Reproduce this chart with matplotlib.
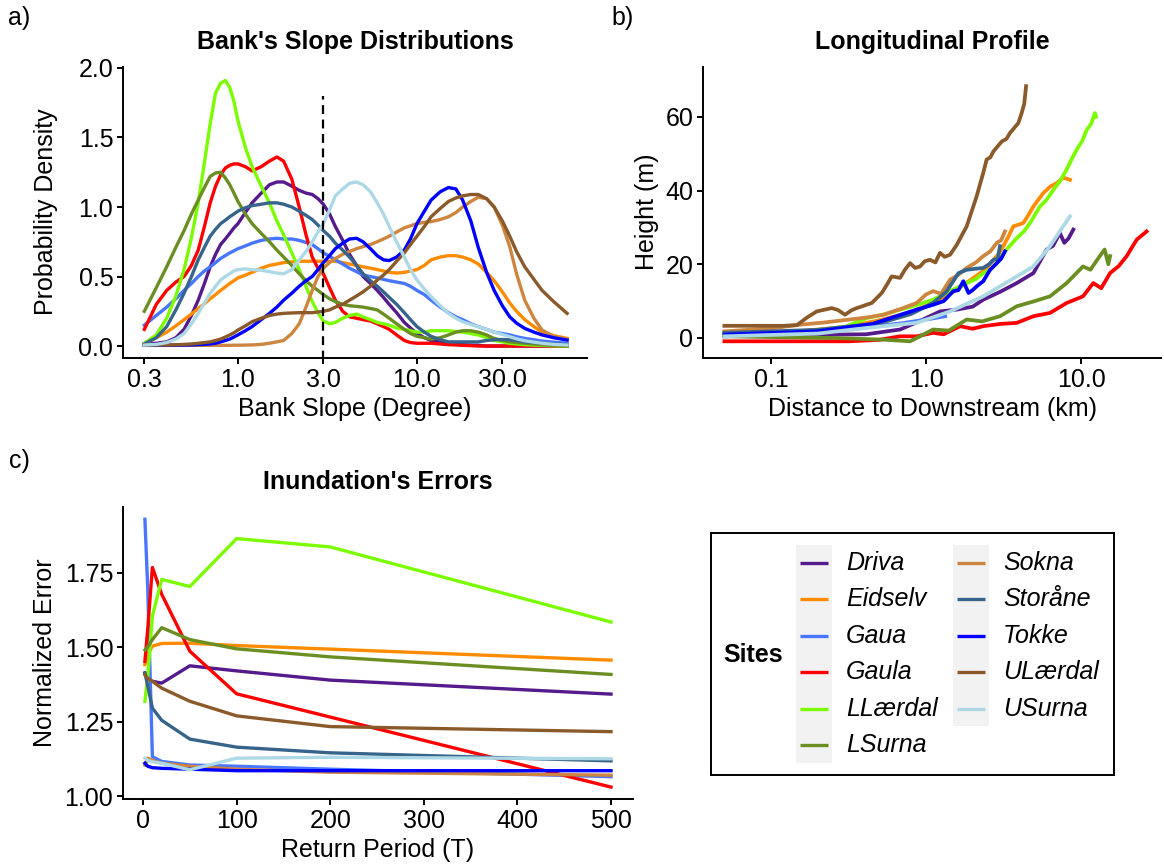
import matplotlib
matplotlib.use("Agg")
import matplotlib.pyplot as plt
from matplotlib.patches import Rectangle

plt.rcParams['font.family'] = ['Liberation Sans', 'DejaVu Sans']
plt.rcParams['font.size'] = 18

# ---- sites and colours ----
sites = ['Driva', 'Eidselv', 'Gaua', 'Gaula', 'LLærdal', 'LSurna',
         'Sokna', 'Storåne', 'Tokke', 'ULærdal', 'USurna']
colors = ['#551A8B', '#FF8C00', '#4876FF', '#FF0000', '#7CFC00', '#6B8E23',
          '#CD853F', '#36648B', '#0000FF', '#8B5A2B', '#ADD8E6']

# ---- a) bank slope densities (read off the picture) ----
slope = [0.3, 0.35, 0.4, 0.45, 0.5, 0.55, 0.6, 0.65, 0.7, 0.75,
         0.8, 0.85, 0.9, 0.95, 1.0, 1.1, 1.2, 1.35, 1.5, 1.65,
         1.8, 2.0, 2.2, 2.4, 2.6, 2.8, 3.0, 3.25, 3.5, 3.85,
         4.2, 4.6, 5, 5.5, 6, 6.5, 7, 7.7, 8.5, 9.2,
         10, 11, 12, 13.5, 15, 16.5, 18, 20, 22, 24.5,
         27, 30, 33, 36, 40, 45, 50, 58, 69]
dens_driva = [0.015, 0.02, 0.03, 0.06, 0.12, 0.22, 0.33, 0.45, 0.57, 0.66,
              0.73, 0.77, 0.81, 0.85, 0.88, 0.96, 1.03, 1.1, 1.16, 1.18,
              1.18, 1.15, 1.12, 1.1, 1.09, 1.06, 1.02, 0.95, 0.86, 0.76,
              0.66, 0.58, 0.5, 0.45, 0.4, 0.35, 0.3, 0.24, 0.17, 0.13,
              0.09, 0.06, 0.04, 0.03, 0.02, 0.015, 0.01, 0.007, 0.005, 0.0,
              0.0, 0.0, 0.0, 0.0, 0.0, 0.0, 0.0, 0.0, 0.0]
dens_eidselv = [0.015, 0.06, 0.1, 0.145, 0.19, 0.23, 0.27, 0.305, 0.34, 0.37,
                0.4, 0.425, 0.45, 0.47, 0.49, 0.51, 0.53, 0.56, 0.58, 0.59,
                0.6, 0.605, 0.61, 0.61, 0.61, 0.61, 0.61, 0.61, 0.61, 0.6,
                0.59, 0.58, 0.57, 0.56, 0.55, 0.54, 0.53, 0.525, 0.53, 0.54,
                0.55, 0.58, 0.62, 0.64, 0.65, 0.65, 0.64, 0.62, 0.59, 0.53,
                0.47, 0.39, 0.31, 0.25, 0.19, 0.14, 0.1, 0.075, 0.055]
dens_gaua = [0.15, 0.22, 0.28, 0.34, 0.4, 0.45, 0.5, 0.54, 0.57, 0.6,
             0.63, 0.65, 0.67, 0.685, 0.7, 0.72, 0.74, 0.76, 0.77, 0.775,
             0.77, 0.77, 0.76, 0.745, 0.73, 0.7, 0.67, 0.645, 0.62, 0.59,
             0.56, 0.535, 0.51, 0.5, 0.49, 0.48, 0.47, 0.46, 0.45, 0.43,
             0.4, 0.37, 0.33, 0.28, 0.24, 0.21, 0.19, 0.16, 0.14, 0.12,
             0.1, 0.09, 0.08, 0.067, 0.055, 0.045, 0.036, 0.028, 0.02]
dens_gaula = [0.12, 0.3, 0.4, 0.46, 0.5, 0.58, 0.69, 0.86, 1.03, 1.15,
              1.23, 1.28, 1.3, 1.31, 1.31, 1.29, 1.26, 1.29, 1.33, 1.36,
              1.33, 1.2, 1.0, 0.8, 0.64, 0.56, 0.52, 0.42, 0.33, 0.25,
              0.21, 0.2, 0.19, 0.18, 0.16, 0.14, 0.12, 0.08, 0.04, 0.025,
              0.02, 0.02, 0.02, 0.015, 0.01, 0.008, 0.005, 0.003, 0.0, 0.0,
              0.0, 0.0, 0.0, 0.0, 0.0, 0.0, 0.0, 0.0, 0.0]
dens_llaerdal = [0.02, 0.08, 0.2, 0.36, 0.55, 0.78, 1.03, 1.32, 1.6, 1.82,
                 1.89, 1.91, 1.86, 1.76, 1.62, 1.43, 1.29, 1.15, 1.03, 0.9,
                 0.8, 0.67, 0.55, 0.43, 0.32, 0.24, 0.18, 0.16, 0.17, 0.2,
                 0.22, 0.23, 0.21, 0.19, 0.17, 0.16, 0.15, 0.13, 0.12, 0.11,
                 0.1, 0.1, 0.11, 0.11, 0.11, 0.105, 0.1, 0.09, 0.08, 0.06,
                 0.04, 0.03, 0.02, 0.015, 0.01, 0.007, 0.005, 0.002, 0.0]
dens_lsurna = [0.25, 0.42, 0.57, 0.71, 0.83, 0.95, 1.05, 1.14, 1.22, 1.245,
               1.25, 1.21, 1.16, 1.1, 1.04, 0.95, 0.88, 0.81, 0.75, 0.69,
               0.64, 0.58, 0.52, 0.47, 0.43, 0.4, 0.37, 0.34, 0.32, 0.3,
               0.29, 0.285, 0.28, 0.27, 0.26, 0.23, 0.2, 0.16, 0.12, 0.09,
               0.07, 0.06, 0.05, 0.06, 0.08, 0.1, 0.11, 0.11, 0.1, 0.08,
               0.055, 0.04, 0.03, 0.025, 0.02, 0.015, 0.01, 0.005, 0.0]
dens_sokna = [0.005, 0.005, 0.005, 0.005, 0.005, 0.005, 0.005, 0.005, 0.005, 0.005,
              0.005, 0.005, 0.005, 0.006, 0.006, 0.007, 0.008, 0.012, 0.02, 0.03,
              0.04, 0.09, 0.16, 0.28, 0.4, 0.5, 0.56, 0.6, 0.63, 0.66,
              0.68, 0.7, 0.715, 0.73, 0.75, 0.77, 0.79, 0.82, 0.85, 0.865,
              0.88, 0.89, 0.895, 0.91, 0.93, 0.96, 1.0, 1.04, 1.07, 1.06,
              1.0, 0.87, 0.715, 0.52, 0.33, 0.2, 0.115, 0.07, 0.048]
dens_storaane = [0.015, 0.06, 0.14, 0.26, 0.38, 0.5, 0.62, 0.71, 0.79, 0.84,
                 0.88, 0.905, 0.93, 0.95, 0.97, 0.995, 1.01, 1.02, 1.03, 1.03,
                 1.02, 1.0, 0.97, 0.94, 0.91, 0.87, 0.83, 0.79, 0.74, 0.69,
                 0.64, 0.58, 0.52, 0.47, 0.43, 0.39, 0.35, 0.3, 0.24, 0.19,
                 0.14, 0.1, 0.07, 0.045, 0.03, 0.03, 0.03, 0.03, 0.03, 0.04,
                 0.045, 0.047, 0.045, 0.04, 0.03, 0.025, 0.02, 0.015, 0.01]
dens_tokke = [0.005, 0.005, 0.005, 0.006, 0.007, 0.008, 0.01, 0.012, 0.015, 0.02,
              0.03, 0.04, 0.05, 0.065, 0.08, 0.11, 0.14, 0.19, 0.235, 0.28,
              0.33, 0.38, 0.43, 0.47, 0.5, 0.55, 0.6, 0.65, 0.7, 0.74,
              0.77, 0.775, 0.75, 0.7, 0.65, 0.62, 0.615, 0.64, 0.69, 0.77,
              0.88, 0.97, 1.05, 1.11, 1.14, 1.13, 1.05, 0.9, 0.71, 0.53,
              0.4, 0.29, 0.21, 0.165, 0.127, 0.1, 0.08, 0.06, 0.043]
dens_ulaerdal = [0.007, 0.007, 0.007, 0.009, 0.012, 0.015, 0.02, 0.025, 0.03, 0.04,
                 0.05, 0.065, 0.08, 0.095, 0.115, 0.145, 0.175, 0.2, 0.22, 0.23,
                 0.235, 0.238, 0.24, 0.24, 0.24, 0.245, 0.25, 0.26, 0.28, 0.3,
                 0.33, 0.36, 0.39, 0.43, 0.475, 0.51, 0.55, 0.61, 0.67, 0.73,
                 0.79, 0.86, 0.93, 0.99, 1.04, 1.065, 1.08, 1.09, 1.09, 1.06,
                 1.0, 0.9, 0.79, 0.68, 0.57, 0.48, 0.4, 0.32, 0.235]
dens_usurna = [0.007, 0.012, 0.025, 0.05, 0.09, 0.16, 0.235, 0.31, 0.38, 0.43,
               0.475, 0.5, 0.52, 0.54, 0.55, 0.555, 0.55, 0.545, 0.535, 0.525,
               0.52, 0.55, 0.62, 0.68, 0.75, 0.82, 0.88, 0.98, 1.08, 1.13,
               1.17, 1.18, 1.16, 1.11, 1.03, 0.95, 0.86, 0.75, 0.64, 0.55,
               0.475, 0.41, 0.355, 0.29, 0.235, 0.2, 0.175, 0.155, 0.14, 0.12,
               0.1, 0.083, 0.067, 0.052, 0.038, 0.028, 0.02, 0.012, 0.007]
densities = [dens_driva, dens_eidselv, dens_gaua, dens_gaula, dens_llaerdal, dens_lsurna,
             dens_sokna, dens_storaane, dens_tokke, dens_ulaerdal, dens_usurna]
slope_threshold = 3.0
threshold_top = 1.8

# ---- b) longitudinal profiles (km, m) ----
km_driva = [0.05, 0.2, 0.41, 0.68, 0.9, 1.23, 1.58, 2.0, 2.34, 3.0, 3.85, 4.93, 6.0, 6.6, 7.3, 7.8, 8.3, 8.92]
h_driva = [0.9, 0.9, 1.0, 2.3, 4.5, 7.2, 7.7, 8.5, 10.4, 12.5, 14.9, 17.6, 24.0, 25.0, 28.5, 25.8, 27.0, 29.4]
km_eidselv = [0.05, 0.15, 0.3, 0.5, 0.8, 1.1, 1.5, 1.9, 2.4, 2.9, 3.15, 3.4, 3.66, 4.0, 4.25, 4.6, 4.93,
              5.3, 5.71, 6.3, 6.97, 7.7, 8.49]
h_eidselv = [1.0, 1.8, 3.0, 4.8, 7.0, 9.5, 12.5, 15.5, 18.5, 22.5, 24.9, 27.5, 30.3, 30.8, 31.2, 33.5, 35.7,
             37.5, 39.3, 41.0, 42.0, 43.5, 42.9]
km_gaua = [0.05, 0.1, 0.2, 0.4, 0.7, 1.0, 1.33]
h_gaua = [0.45, 0.8, 1.5, 2.8, 4.0, 5.0, 5.9]
km_gaula = [0.05, 0.32, 0.5, 0.68, 0.87, 1.11, 1.3, 1.66, 2.0, 2.34, 3.0, 3.85, 4.93, 6.31, 8.08, 10.3,
            12.0, 13.5, 15.4, 17.5, 19.7, 22.9, 26.5]
h_gaula = [-0.9, -0.9, -0.5, 0.45, 0.45, 1.4, 1.0, 3.2, 2.5, 3.2, 3.8, 4.1, 5.9, 6.8, 9.5, 11.3,
           14.9, 13.5, 17.6, 19.5, 22.2, 26.7, 28.9]
km_llaerdal = [0.05, 0.15, 0.3, 0.414, 0.55, 0.68, 0.85, 1.11, 1.4, 1.83, 2.1, 2.34, 2.6, 2.86, 3.31, 3.85,
               4.3, 4.69, 5.44, 6.0, 6.63, 7.3, 8.08, 8.7, 9.38, 10.2, 10.9, 11.6, 12.3, 12.5]
h_llaerdal = [0.8, 1.5, 3.0, 5.4, 6.5, 7.7, 8.8, 10.4, 12.5, 14.9, 16.0, 17.6, 18.5, 20.3, 24.0, 27.1,
              29.0, 31.2, 35.7, 37.5, 40.2, 42.5, 45.7, 48.5, 51.1, 53.5, 56.5, 58.0, 61.0, 60.0]
km_lsurna = [0.05, 0.25, 0.53, 0.79, 0.915, 1.11, 1.4, 1.83, 2.3, 3.0, 3.85, 4.93, 6.31, 8.08, 10.3,
             11.5, 13.2, 14.2, 15.0, 15.4]
h_lsurna = [0.45, 0.0, -0.45, -0.9, 0.45, 2.3, 2.0, 5.0, 4.5, 5.9, 8.6, 9.9, 11.3, 14.9, 19.4,
            18.5, 22.2, 24.0, 20.0, 22.2]
km_sokna = [0.05, 0.1, 0.154, 0.22, 0.32, 0.42, 0.53, 0.7, 0.87, 1.0, 1.11, 1.25, 1.43, 1.6, 1.83, 2.1,
            2.34, 2.6, 2.86, 3.05, 3.23]
h_sokna = [1.8, 2.6, 3.6, 4.2, 5.0, 5.6, 6.3, 8.0, 9.5, 11.8, 12.7, 12.0, 15.8, 17.0, 19.0, 20.5,
           22.2, 23.5, 25.8, 26.5, 28.9]
km_storaane = [0.05, 0.2, 0.5, 0.8, 1.11, 1.35, 1.62, 1.83, 2.1, 2.34, 2.55, 2.72, 2.9, 3.0]
h_storaane = [1.4, 2.2, 4.0, 6.5, 9.5, 12.5, 17.6, 18.5, 18.8, 19.0, 20.0, 21.2, 21.5, 24.9]
km_tokke = [0.05, 0.2, 0.45, 0.87, 1.11, 1.3, 1.5, 1.62, 1.74, 1.88, 2.0, 2.12, 2.34, 2.59, 2.86, 3.05, 3.23]
h_tokke = [0.9, 1.8, 3.8, 7.7, 9.0, 10.0, 12.7, 13.0, 15.4, 12.2, 13.0, 14.0, 15.4, 18.5, 20.3, 21.5, 23.5]
km_ulaerdal = [0.05, 0.08, 0.12, 0.147, 0.17, 0.197, 0.246, 0.27, 0.30, 0.33, 0.357, 0.40, 0.447, 0.518,
               0.56, 0.60, 0.68, 0.73, 0.789, 0.85, 0.915, 0.98, 1.06, 1.15, 1.23, 1.32, 1.43, 1.58, 1.83,
               2.12, 2.34, 2.46, 2.6, 2.72, 2.9, 3.08, 3.3, 3.48, 3.94, 4.14, 4.3, 4.42]
h_ulaerdal = [3.3, 3.3, 3.3, 3.5, 5.5, 7.2, 8.1, 7.6, 6.3, 7.5, 8.1, 8.8, 9.5, 12.2,
              14.5, 16.7, 16.3, 18.5, 20.3, 19.0, 19.4, 20.8, 21.2, 20.5, 23.1, 22.0, 22.6, 25.3, 30.3,
              38.4, 44.8, 48.4, 49.0, 50.6, 52.0, 53.3, 54.0, 55.6, 58.3, 61.0, 63.5, 68.3]
km_usurna = [0.05, 0.2, 0.41, 0.87, 1.43, 2.34, 3.85, 4.93, 6.31, 7.68, 8.49]
h_usurna = [0.45, 1.2, 2.7, 4.1, 7.2, 11.3, 16.7, 19.4, 24.9, 30.3, 33.0]
profiles_km = [km_driva, km_eidselv, km_gaua, km_gaula, km_llaerdal, km_lsurna,
               km_sokna, km_storaane, km_tokke, km_ulaerdal, km_usurna]
profiles_h = [h_driva, h_eidselv, h_gaua, h_gaula, h_llaerdal, h_lsurna,
              h_sokna, h_storaane, h_tokke, h_ulaerdal, h_usurna]

# ---- c) inundation errors ----
return_period = [2, 5, 10, 20, 50, 100, 200, 500]
err_driva = [1.413, 1.396, 1.385, 1.379, 1.437, 1.42, 1.389, 1.342]
err_eidselv = [1.441, 1.475, 1.503, 1.512, 1.513, 1.505, 1.493, 1.456]
err_gaua = [1.929, 1.70, 1.132, 1.116, 1.104, 1.10, 1.09, 1.065]
err_gaula = [1.452, 1.56, 1.767, 1.677, 1.486, 1.343, 1.265, 1.03]
err_llaerdal = [1.318, 1.40, 1.604, 1.727, 1.703, 1.864, 1.836, 1.584]
err_lsurna = [1.49, 1.50, 1.525, 1.565, 1.525, 1.494, 1.467, 1.408]
err_sokna = [1.104, 1.127, 1.12, 1.11, 1.10, 1.09, 1.08, 1.07]
err_storaane = [1.413, 1.37, 1.295, 1.254, 1.191, 1.164, 1.145, 1.118]
err_tokke = [1.11, 1.10, 1.095, 1.093, 1.09, 1.085, 1.085, 1.085]
err_ulaerdal = [1.407, 1.395, 1.385, 1.362, 1.318, 1.269, 1.233, 1.216]
err_usurna = [1.127, 1.12, 1.115, 1.11, 1.088, 1.127, 1.13, 1.125]
errors = [err_driva, err_eidselv, err_gaua, err_gaula, err_llaerdal, err_lsurna,
          err_sokna, err_storaane, err_tokke, err_ulaerdal, err_usurna]

W, H = 1164, 865
fig = plt.figure(figsize=(W / 100, H / 100), dpi=100)


def box(l, t, r, b):
    return [l / W, 1 - b / H, (r - l) / W, (b - t) / H]


def ftext(x, y, s, **kw):
    fig.text(x / W, 1 - y / H, s, **kw)


def classic(ax):
    for s in ['top', 'right']:
        ax.spines[s].set_visible(False)
    for s in ['left', 'bottom']:
        ax.spines[s].set_linewidth(1.4)
    ax.tick_params(direction='out', length=4, width=1.4, color='black',
                   labelsize=18, labelcolor='black', pad=3)
    ax.minorticks_off()


LW = 2.4

# panel a
ax1 = fig.add_axes(box(123, 67, 587, 358))
for d, c in zip(densities, colors):
    ax1.plot(slope, d, color=c, lw=LW, solid_joinstyle='round')
ax1.vlines(slope_threshold, -0.2, threshold_top, colors='black', linestyles=(0, (4, 2.5)), lw=1.6)
ax1.set_xscale('log')
ax1.set_xlim(10 ** -0.642, 10 ** 1.95)
ax1.set_ylim(-0.086, 2.007)
ax1.set_xticks([0.3, 1, 3, 10, 30])
ax1.set_xticklabels(['0.3', '1.0', '3.0', '10.0', '30.0'])
ax1.set_yticks([0, 0.5, 1.0, 1.5, 2.0])
ax1.set_yticklabels(['0.0', '0.5', '1.0', '1.5', '2.0'])
classic(ax1)

# panel b
ax2 = fig.add_axes(box(703, 67, 1161, 358))
for xk, hk, c in zip(profiles_km, profiles_h, colors):
    ax2.plot(xk, hk, color=c, lw=LW + 0.3)
ax2.set_xscale('log')
ax2.set_xlim(10 ** -1.439, 10 ** 1.516)
ax2.set_ylim(-5.43, 73.5)
ax2.set_xticks([0.1, 1, 10])
ax2.set_xticklabels(['0.1', '1.0', '10.0'])
ax2.set_yticks([0, 20, 40, 60])
classic(ax2)

# panel c
ax3 = fig.add_axes(box(123, 507, 633, 799))
for e, c in zip(errors, colors):
    ax3.plot(return_period, e, color=c, lw=LW)
ax3.set_xlim(-21.4, 523.5)
ax3.set_ylim(0.990, 1.970)
ax3.set_xticks([0, 100, 200, 300, 400, 500])
ax3.set_yticks([1.0, 1.25, 1.5, 1.75])
ax3.set_yticklabels(['1.00', '1.25', '1.50', '1.75'])
classic(ax3)

# titles, labels
ftext(355, 42, "Bank's Slope Distributions", ha='center', va='center', fontweight='bold')
ftext(932, 42, "Longitudinal Profile", ha='center', va='center', fontweight='bold')
ftext(378, 482, "Inundation's Errors", ha='center', va='center', fontweight='bold')
ftext(355, 409, "Bank Slope (Degree)", ha='center', va='center')
ftext(932, 409, "Distance to Downstream (km)", ha='center', va='center')
ftext(378, 850, "Return Period (T)", ha='center', va='center')
ftext(46, 212, "Probability Density", ha='center', va='center', rotation=90)
ftext(647, 212, "Height (m)", ha='center', va='center', rotation=90)
ftext(45, 653, "Normalized Error", ha='center', va='center', rotation=90)
ftext(8, 18, "a)", ha='left', va='center')
ftext(611, 18, "b)", ha='left', va='center')
ftext(9, 461, "c)", ha='left', va='center')

# legend box (pixel layout inside)
axl = fig.add_axes(box(711, 533, 1114, 775))
axl.set_xlim(0, 403)
axl.set_ylim(242, 0)
axl.set_xticks([])
axl.set_yticks([])
for s in axl.spines.values():
    s.set_linewidth(1.4)
axl.text(12, 122, "Sites", ha='left', va='center', fontweight='bold')
axl.add_patch(Rectangle((85, 12), 36, 218, color='#F2F2F2', lw=0))
axl.add_patch(Rectangle((242, 12), 36, 181, color='#F2F2F2', lw=0))
for i, (name, c) in enumerate(zip(sites, colors)):
    col, row = divmod(i, 6)
    x0 = 89 + col * 157
    y0 = 30 + row * 36.4
    axl.plot([x0, x0 + 28], [y0, y0], color=c, lw=LW, solid_capstyle='butt')
    axl.text(x0 + 46, y0, name, ha='left', va='center', fontstyle='italic')

fig.savefig('out.png', dpi=100)
